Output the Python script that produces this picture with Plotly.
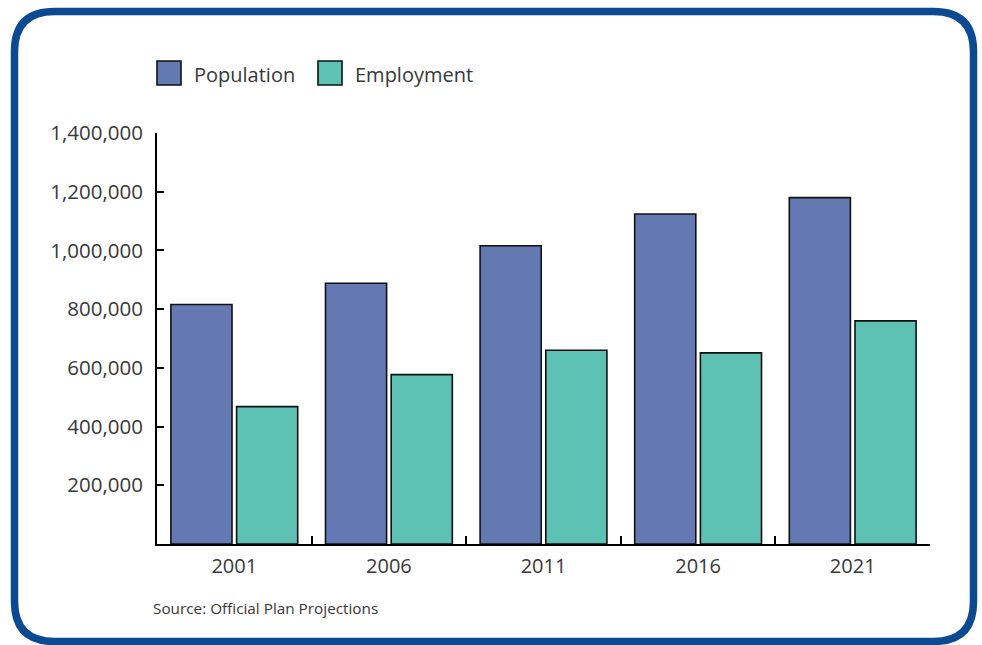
import plotly.graph_objects as go

# Chart data
years = ["2001", "2006", "2011", "2016", "2021"]
population = [816000, 888000, 1016000, 1124000, 1180000]
employment = [468000, 577000, 660000, 651000, 760000]
y_ticks = [200000, 400000, 600000, 800000, 1000000, 1200000, 1400000]
series_names = ["Population", "Employment"]
source_note = "Source: Official Plan Projections"

POP_COLOR = "#6479B2"
EMP_COLOR = "#5DC2B3"
FRAME_COLOR = "#0B4A93"
TEXT_COLOR = "#383838"
FONT = "'Open Sans', Lato, sans-serif"

W, H = 982, 645
L, R, T, B = 157, 930, 133, 544  # plot area in pixels


def px(x):
    return (x - L) / (R - L)


def py(y):
    return (B - y) / (B - T)


fig = go.Figure()
fig.add_trace(go.Bar(x=years, y=population, name=series_names[0],
                     marker=dict(color=POP_COLOR, line=dict(color="#111", width=1.6)),
                     showlegend=False))
fig.add_trace(go.Bar(x=years, y=employment, name=series_names[1],
                     marker=dict(color=EMP_COLOR, line=dict(color="#111", width=1.6)),
                     showlegend=False))

# Rounded frame around the whole figure
x0, x1, y0, y1, r = 14.5, 973.5, 11.5, 641.5, 40


def frame_path():
    pts = [
        f"M {px(x0 + r)},{py(y0)}",
        f"L {px(x1 - r)},{py(y0)}",
        f"Q {px(x1)},{py(y0)} {px(x1)},{py(y0 + r)}",
        f"L {px(x1)},{py(y1 - r)}",
        f"Q {px(x1)},{py(y1)} {px(x1 - r)},{py(y1)}",
        f"L {px(x0 + r)},{py(y1)}",
        f"Q {px(x0)},{py(y1)} {px(x0)},{py(y1 - r)}",
        f"L {px(x0)},{py(y0 + r)}",
        f"Q {px(x0)},{py(y0)} {px(x0 + r)},{py(y0)}",
        "Z",
    ]
    return " ".join(pts)


shapes = [dict(type="path", xref="paper", yref="paper", path=frame_path(),
               line=dict(color=FRAME_COLOR, width=7.5), layer="above")]

# Legend swatches and labels
annotations = []
legend_items = [(series_names[0], POP_COLOR, 157), (series_names[1], EMP_COLOR, 318)]
for name, color, lx in legend_items:
    shapes.append(dict(type="rect", xref="paper", yref="paper",
                       x0=px(lx), x1=px(lx + 24), y0=py(85), y1=py(61),
                       fillcolor=color, line=dict(color="#111", width=1.6)))
    annotations.append(dict(xref="paper", yref="paper", x=px(lx + 35), y=py(74),
                            text=name, showarrow=False, xanchor="left", yanchor="middle",
                            font=dict(family=FONT, size=20, color=TEXT_COLOR)))

annotations.append(dict(xref="paper", yref="paper", x=px(151), y=py(608),
                        text=source_note, showarrow=False, xanchor="left", yanchor="middle",
                        font=dict(family=FONT, size=15.3, color=TEXT_COLOR)))

fig.update_layout(
    width=W, height=H,
    margin=dict(l=L, r=W - R, t=T, b=H - B),
    paper_bgcolor="white", plot_bgcolor="white",
    barmode="group", bargap=0.15, bargroupgap=0.07,
    font=dict(family=FONT, size=20, color=TEXT_COLOR),
    shapes=shapes, annotations=annotations,
    xaxis=dict(showline=True, linecolor="black", linewidth=2,
               ticks="inside", tickson="boundaries", ticklen=8, tickwidth=2,
               tickcolor="black", showgrid=False, zeroline=False,
               ticklabelstandoff=3,
               tickfont=dict(size=20, color=TEXT_COLOR)),
    yaxis=dict(range=[0, 1400000], tickvals=y_ticks,
               ticktext=[f"{v:,}" for v in y_ticks],
               showline=True, linecolor="black", linewidth=2,
               ticks="inside", ticklen=7, tickwidth=2, tickcolor="black",
               showgrid=False, zeroline=False, ticklabelstandoff=8,
               tickfont=dict(size=20.5, color=TEXT_COLOR)),
)

fig.write_html("out.html")
